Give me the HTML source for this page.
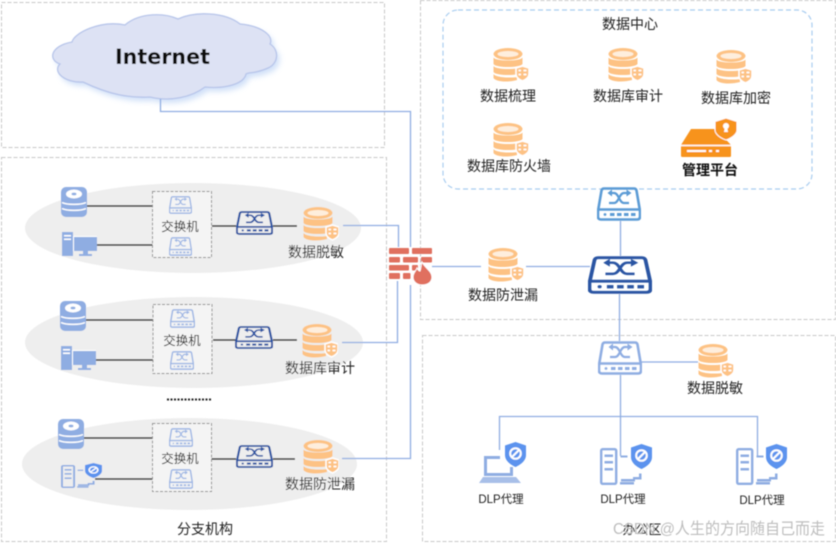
<!DOCTYPE html>
<html lang="zh">
<head>
<meta charset="utf-8">
<title>网络拓扑</title>
<style>
html,body{margin:0;padding:0;background:#fff;width:836px;height:545px;overflow:hidden}
svg{display:block}
text{font-family:"Liberation Sans","Noto Sans CJK SC",sans-serif;fill:#222;text-anchor:middle;font-size:14px}
.p{fill:none;stroke:#c8c8c8;stroke-width:1;stroke-dasharray:4 2}
.k{stroke:#222;stroke-width:1.500;fill:none}
.b{stroke:#8fade2;stroke-width:1.300;fill:none}
</style>
</head>
<body>
<svg width="836" height="545" viewBox="0 0 836 545" xmlns="http://www.w3.org/2000/svg">
<defs>
<symbol id="sw" viewBox="0 0 44 34" preserveAspectRatio="none">
<g fill="none" stroke="currentColor" stroke-width="2.600">
<path d="M7 1.500H37Q39 1.500 39.500 3.500L43 24V29.500Q43 32.500 40 32.500H4Q1 32.500 1 29.500V24L4.500 3.500Q5 1.500 7 1.500Z"/>
<path d="M1.500 22.500H42.500"/>
<path d="M14 6H17C22 6 22 16 27 16H32M12 16H17C22 16 22 6 27 6H31" stroke-width="2.200"/>
</g>
<path d="M15 2.500V9.500L10.500 6ZM29.500 2.500V9.500L34.500 6Z" fill="currentColor"/>
<g fill="currentColor"><circle cx="8" cy="27.500" r="1.400"/><rect x="13" y="26" width="4.500" height="3"/><rect x="20" y="26" width="4.500" height="3"/><rect x="27" y="26" width="4.500" height="3"/><rect x="34" y="26" width="4.500" height="3"/></g>
</symbol>
<symbol id="db" viewBox="0 0 36 34">
<g fill="#fdc284">
<ellipse cx="15" cy="6" rx="14.500" ry="6"/>
<path d="M.5 9.500C3 13.500 27 13.500 29.500 9.500V16C27 20 3 20 .5 16Z"/>
<path d="M.5 18C3 22 27 22 29.500 18V24C27 28 3 28 .5 24Z"/>
<path d="M.5 26C3 30 20 30 24 29V32C15 34.500 3 34 .5 30Z"/>
</g>
<ellipse cx="15" cy="6" rx="10.500" ry="3" fill="#feeedd"/>
<path d="M29.500 18L36 20V26C36 29 33 31.500 29.500 33C26 31.500 23 29 23 26V20Z" fill="#fdc284" stroke="#fff" stroke-width="1.500"/>
<path d="M25.500 22.500H28M30.500 22.500H33.500M25.500 26.500H28M30.500 26.500H33.500" stroke="#fff" stroke-width="1.800"/>
</symbol>
<symbol id="disk" viewBox="0 0 26 30">
<rect x="0" y="0" width="26" height="30" rx="5" fill="#8fade2"/>
<ellipse cx="13" cy="7" rx="8" ry="4.500" fill="#fff"/><ellipse cx="13" cy="7" rx="2.500" ry="1.400" fill="#8fade2"/>
<path d="M1 15.500C6 18 20 18 25 15.500M1 21.500C6 24 20 24 25 21.500" stroke="#fff" stroke-width="1.500" fill="none"/>
</symbol>
<symbol id="pc" viewBox="0 0 35 24">
<rect x="0" y="0" width="11" height="24" fill="#8fade2"/>
<rect x="2" y="3" width="7" height="1.500" fill="#fff"/><rect x="2" y="6.500" width="7" height="1.500" fill="#fff"/>
<rect x="11" y="4" width="24" height="15" fill="#fff"/><rect x="12" y="5" width="23" height="14" fill="#8fade2"/>
<rect x="21" y="19" width="5" height="3" fill="#8fade2"/><rect x="17" y="22" width="13" height="2" fill="#8fade2"/>
</symbol>
<symbol id="shield" viewBox="0 0 21 25" preserveAspectRatio="none">
<path d="M10.500 0L21 3.500V13C21 19 15 23 10.500 25C6 23 0 19 0 13V3.500Z" fill="#5b93ee"/>
<circle cx="10.500" cy="11.500" r="5.300" fill="none" stroke="#fff" stroke-width="2"/>
<path d="M7 15L14 8" stroke="#fff" stroke-width="2"/>
</symbol>
<symbol id="srv" viewBox="0 0 42 37" preserveAspectRatio="none">
<g fill="none" stroke="#8fade2" stroke-width="2.400">
<rect x="1.200" y="1.200" width="15" height="34.600" rx="1.500"/>
</g>
<g fill="#8fade2">
<rect x="4.500" y="6.500" width="8.500" height="2.500"/><rect x="4.500" y="13" width="8.500" height="2.500"/><rect x="4.500" y="20" width="8.500" height="2.500"/>
<rect x="21" y="31" width="14" height="2.500"/><rect x="20" y="34" width="14" height="2.500"/>
<rect x="20.500" y="7.500" width="7" height="2"/>
<path d="M39 25.500h2.500v6H33v-2.500h6Z"/>
</g>
</symbol>
<filter id="glow" x="-10%" y="-20%" width="125%" height="150%"><feGaussianBlur stdDeviation="3"/></filter>
<filter id="soft" x="-5%" y="-5%" width="110%" height="110%"><feGaussianBlur stdDeviation="0.4"/></filter>
</defs>

<g filter="url(#soft)">
<!-- panels -->
<rect class="p" x="1.500" y="2.500" width="383" height="145"/>
<rect class="p" x="1.500" y="157.500" width="385" height="384"/>
<rect class="p" x="420.500" y="0.500" width="415" height="319"/>
<rect class="p" x="422.500" y="335.500" width="413" height="206"/>
<rect x="443" y="10" width="369" height="179" rx="15" fill="none" stroke="#a9cdf0" stroke-width="1.200" stroke-dasharray="5 3"/>

<!-- ellipses -->
<ellipse cx="193" cy="228" rx="168" ry="45" fill="#eeeeee"/>
<ellipse cx="194" cy="342.500" rx="169" ry="45.500" fill="#eeeeee"/>
<ellipse cx="189.500" cy="464" rx="167.500" ry="46" fill="#eeeeee"/>

<!-- cloud -->
<path d="M72 42C74 33 100 20 125 25C140 12 165 13 178 19C195 11 225 12 240 24C262 26 274 36 270 44C280 50 278 64 268 68C255 74 248 72 246 74C244 84 225 89 205 87C192 97 170 102 150 97C130 98 110 95 83 82C65 83 52 72 60 64C48 60 50 46 72 42Z" fill="#bcd2f5" opacity=".7" filter="url(#glow)" transform="translate(3,4)"/>
<path d="M72 42C74 33 100 20 125 25C140 12 165 13 178 19C195 11 225 12 240 24C262 26 274 36 270 44C280 50 278 64 268 68C255 74 248 72 246 74C244 84 225 89 205 87C192 97 170 102 150 97C130 98 110 95 83 82C65 83 52 72 60 64C48 60 50 46 72 42Z" fill="#dde2f4" stroke="#b7c5ea" stroke-width="1.300"/>
<text x="162.500" y="64" style="font-family:'DejaVu Sans',sans-serif;font-weight:bold;font-size:21px;fill:#111" textLength="95" lengthAdjust="spacingAndGlyphs">Internet</text>

<!-- blue connectors -->
<path class="b" d="M160.500 99V111.500H410.500V247"/>
<path class="b" d="M343 225.500H398.500V247"/>
<path class="b" d="M342 342.500H397.500V281"/>
<path class="b" d="M342 458.500H410.500V285"/>
<path class="b" d="M432 266.500H481M526 266.500H590M620.500 221V256M619.500 294V341M641 362H698M620.500 375V456M499.500 450V416.500H757.500V456"/>

<!-- black connectors -->
<path class="k" d="M87 206H153M96 245H153M212 226H236M273 226H297"/>
<path class="k" d="M86 320H154M96 360H154M213 340H236M273 340H297"/>
<path class="k" d="M84 438H153M95 479H154M211 459H236M273 459H295"/>
<path d="M167 399.500H211" stroke="#222" stroke-width="2" stroke-dasharray="2 1.500" fill="none"/>

<!-- switch boxes -->
<g fill="#f4f4f4" stroke="#8c8c8c" stroke-dasharray="3 1.500">
<rect x="152.500" y="191.500" width="59" height="66"/>
<rect x="153" y="304.500" width="59" height="69"/>
<rect x="152.500" y="423.500" width="59" height="68"/>
</g>
<g style="color:#9db6e4">
<use href="#sw" x="169" y="196" width="23" height="18"/>
<use href="#sw" x="169" y="237" width="23" height="19"/>
<use href="#sw" x="170" y="309" width="25" height="19"/>
<use href="#sw" x="170" y="351" width="24" height="19"/>
<use href="#sw" x="169" y="428" width="24" height="19"/>
<use href="#sw" x="169" y="469" width="24" height="20"/>
</g>
<g style="color:#2b55a3">
<use href="#sw" x="236" y="211" width="37" height="24"/>
<use href="#sw" x="235" y="326" width="38" height="23"/>
<use href="#sw" x="236" y="445" width="37" height="23"/>
<use href="#sw" x="588" y="256" width="64" height="38"/>
</g>
<use href="#sw" x="597" y="187" width="44" height="34" style="color:#5b9bd5"/>
<use href="#sw" x="598" y="341" width="44" height="34" style="color:#8fade2"/>

<!-- left devices -->
<use href="#disk" x="61" y="187" width="26" height="30"/>
<use href="#disk" x="60" y="301" width="26" height="30"/>
<use href="#disk" x="58" y="419" width="26" height="30"/>
<use href="#pc" x="62" y="232" width="35" height="24"/>
<use href="#pc" x="61" y="346" width="35" height="24"/>
<use href="#srv" x="61" y="465" width="34" height="23"/>
<use href="#shield" x="85" y="463" width="17" height="15"/>

<!-- db icons -->
<use href="#db" x="303" y="207" width="36" height="34"/>
<use href="#db" x="302" y="324" width="36" height="34"/>
<use href="#db" x="303" y="440" width="36" height="34"/>
<use href="#db" x="493" y="48" width="36" height="34"/>
<use href="#db" x="608" y="48" width="36" height="34"/>
<use href="#db" x="716" y="50" width="36" height="34"/>
<use href="#db" x="493" y="123" width="36" height="34"/>
<use href="#db" x="488" y="248" width="36" height="34"/>
<use href="#db" x="698" y="344" width="36" height="34"/>

<!-- management platform -->
<path d="M691 129H716L731 145V156Q731 157 729 157H683Q681 157 681 156V145Z" fill="#f7931e"/>
<path d="M681 145.500H731" stroke="#fff" stroke-width="1.500"/>
<rect x="687" y="150" width="19" height="2" fill="#fff"/><rect x="709" y="150" width="3" height="2" fill="#fff"/><rect x="716" y="150" width="3" height="2" fill="#fff"/>
<path d="M726 118L737 121.500V130C737 134 732 138 726 140C720 138 715 134 715 130V121.500Z" fill="#f7931e" stroke="#fff" stroke-width="1"/>
<circle cx="726" cy="126" r="3" fill="#fff"/><path d="M724 132L725 127H727L728 132Z" fill="#fff"/>

<!-- firewall -->
<g fill="#e0705f">
<rect x="389" y="248" width="20" height="6" rx="1"/><rect x="412" y="248" width="20" height="6" rx="1"/>
<rect x="389" y="257" width="11" height="5.500" rx="1"/><rect x="403" y="257" width="15" height="5.500" rx="1"/><rect x="421" y="257" width="11" height="5.500" rx="1"/>
<rect x="389" y="265" width="20" height="5.500" rx="1"/><rect x="412" y="265" width="6" height="5.500" rx="1"/>
<rect x="389" y="273" width="11" height="6" rx="1"/><rect x="403" y="273" width="7.500" height="6" rx="1"/>
<path d="M422 262C424 267 432 271 432 277C432 282 428 285 422 285C416 285 413 281 413 277C413 273 416 271 417 268C418 270 419 271 420 271C421 268 421 265 422 262Z" stroke="#fff" stroke-width="1"/>
</g>

<!-- office devices -->
<path d="M484 456H500V459H487V473H510V467H513V476H484Z" fill="#8fade2"/>
<path d="M483 477H516L521 483H479Z" fill="#a8bfe8"/>
<use href="#shield" x="505" y="442" width="21" height="25"/>
<use href="#srv" x="600" y="448" width="42" height="37"/>
<use href="#shield" x="631" y="444" width="21" height="25"/>
<use href="#srv" x="736" y="448" width="42" height="37"/>
<use href="#shield" x="766" y="444" width="21" height="25"/>

<!-- labels -->
<text x="630" y="29">数据中心</text>
<text x="508" y="101">数据梳理</text>
<text x="628" y="101">数据库审计</text>
<text x="736" y="103">数据库加密</text>
<text x="509" y="171">数据库防火墙</text>
<text x="710" y="175" style="font-weight:bold;fill:#111">管理平台</text>
<text x="503" y="300">数据防泄漏</text>
<text x="715" y="393">数据脱敏</text>
<text x="316" y="257">数据脱敏</text>
<text x="320" y="373">数据库审计</text>
<text x="320" y="489">数据防泄漏</text>
<text x="205" y="534">分支机构</text>
<text x="180" y="231" style="font-size:12.500px">交换机</text>
<text x="182" y="345" style="font-size:12.500px">交换机</text>
<text x="180" y="463" style="font-size:12.500px">交换机</text>
<text x="501" y="503" style="font-size:11.500px">DLP代理</text>
<text x="623" y="503" style="font-size:11.500px">DLP代理</text>
<text x="762" y="504" style="font-size:11.500px">DLP代理</text>
<text x="642" y="534" style="font-size:13px">办公区</text>
<text x="719" y="534" style="font-size:16px;fill:#bdbdbd" textLength="212" lengthAdjust="spacingAndGlyphs">CSDN @人生的方向随自己而走</text>
</g>
</svg>
</body>
</html>
